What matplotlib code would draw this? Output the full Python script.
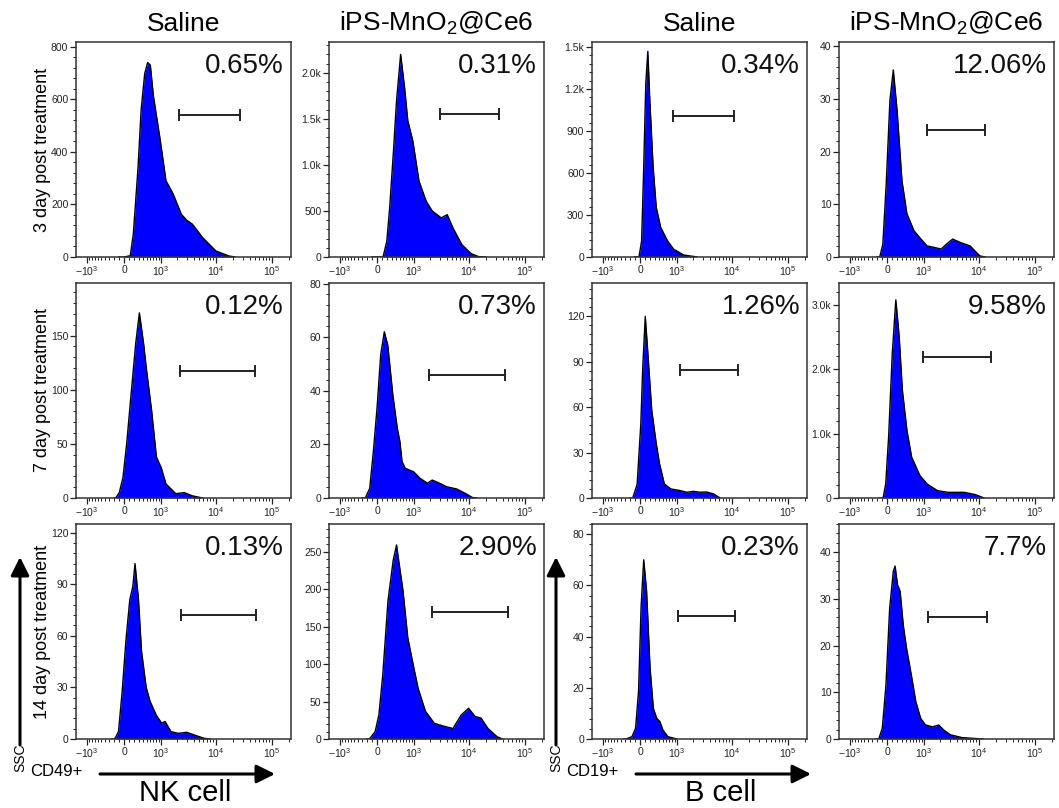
import numpy as np
import matplotlib.pyplot as plt
from matplotlib.ticker import AutoMinorLocator

plt.rcParams['font.family'] = ['Liberation Sans', 'DejaVu Sans']
plt.rcParams['mathtext.default'] = 'regular'

# histogram outlines: (fluorescence, count)
nk_sal_d3_x = [-100, 0, 120, 180, 280, 350, 440, 520, 600, 700, 970, 1250, 1700, 2400, 3000, 3800, 5800, 10000, 17000, 22000]
nk_sal_d3_y = [0, 0, 5, 87, 341, 558, 698, 740, 730, 613, 443, 290, 240, 163, 140, 125, 74, 23, 4, 0]
nk_ips_d3_x = [-100, 115, 190, 250, 330, 410, 520, 640, 750, 950, 1250, 1700, 2200, 3200, 4100, 5200, 7500, 11000, 15000, 20000]
nk_ips_d3_y = [0, 0, 171, 535, 1116, 1700, 2200, 1840, 1480, 1260, 825, 607, 500, 425, 460, 316, 135, 36, 4, 0]
b_sal_d3_x = [-100, -20, 30, 70, 110, 150, 190, 260, 330, 440, 640, 860, 1350, 2400]
b_sal_d3_y = [0, 0, 115, 642, 1240, 1469, 1121, 642, 355, 211, 115, 55, 14, 0]
b_ips_d3_x = [-200, -140, -80, -15, 55, 120, 195, 300, 420, 620, 870, 1150, 1600, 2100, 2600, 3400, 4800, 7000, 8600, 10500, 13000]
b_ips_d3_y = [0, 0, 2.4, 13.9, 29.8, 35.5, 27.9, 14.5, 8.2, 5.0, 3.4, 2.1, 1.8, 1.5, 2.4, 3.4, 2.7, 2.1, 1.1, 0.2, 0]

nk_sal_d7_x = [-200, -160, -90, -20, 50, 130, 230, 310, 410, 490, 640, 810, 1010, 1250, 1900, 2700, 3800, 5800]
nk_sal_d7_y = [0, 0, 5, 19, 50, 93, 143, 171, 143, 118, 81, 38, 28, 13, 4, 5, 2, 0]
nk_ips_d7_x = [-300, -230, -140, -70, 0, 70, 140, 210, 320, 430, 500, 560, 660, 980, 1300, 1800, 2200, 3000, 4000, 6000, 8700, 11500, 14000]
nk_ips_d7_y = [0, 0, 3.6, 17.3, 33.5, 53.5, 62, 57, 38.5, 26, 21, 13.6, 11.1, 9.8, 7.4, 5.5, 6.7, 5.5, 4.2, 3.4, 1.7, 0.2, 0]
b_sal_d7_x = [-200, -140, -55, 15, 50, 100, 150, 230, 330, 410, 540, 750, 1150, 1550, 2050, 2700, 3500, 4700, 6200]
b_sal_d7_y = [0, 0, 9, 49, 85, 120, 96, 58, 36, 22.6, 9.3, 6, 4.9, 3.8, 4.4, 3.8, 4, 2.7, 0]
b_ips_d7_x = [-150, -75, -25, 30, 100, 170, 240, 310, 420, 550, 830, 1150, 1800, 2800, 5500, 8700, 12500]
b_ips_d7_y = [0, 0, 218, 946, 2246, 3078, 2506, 1674, 1050, 634, 348, 218, 114, 88, 88, 52, 0]

nk_sal_d14_x = [-250, -180, -105, -35, 35, 110, 170, 215, 290, 360, 480, 590, 800, 1030, 1200, 1550, 2100, 3000, 4400, 6200, 8000]
nk_sal_d14_y = [0, 0, 4.3, 27.8, 57, 81, 88.6, 102, 81, 51, 30, 22, 14, 9.2, 10.2, 4.3, 3.3, 3.9, 2, 0.4, 0]
nk_ips_d14_x = [-200, -145, -35, 35, 110, 215, 330, 410, 490, 590, 750, 960, 1200, 1650, 2400, 3600, 5200, 7300, 9900, 13000, 16500, 22000, 32000, 40000]
nk_ips_d14_y = [0, 0, 10, 32, 86, 185, 239, 259, 230, 198, 135, 100, 68, 37, 21, 17, 14, 32, 41, 30, 28, 14, 3, 0]
b_sal_d14_x = [-350, -280, -155, -85, -28, 20, 70, 125, 195, 265, 340, 420, 500, 650, 870, 1000]
b_sal_d14_y = [0, 0, 0.9, 4.2, 18.6, 51.5, 70, 58, 27.8, 12, 8.1, 6.8, 3.5, 0.9, 0.3, 0]
b_ips_d14_x = [-220, -160, -90, -20, 50, 120, 155, 205, 260, 330, 410, 540, 680, 860, 1070, 1450, 1900, 2350, 3100, 5000, 12000]
b_ips_d14_y = [0, 0, 2.3, 11.6, 28, 35.9, 37, 33, 31.6, 24.4, 19.4, 13.7, 8, 4.4, 3, 2.6, 3, 1.9, 0.9, 0.3, 0]

curves_x = [nk_sal_d3_x, nk_ips_d3_x, b_sal_d3_x, b_ips_d3_x,
            nk_sal_d7_x, nk_ips_d7_x, b_sal_d7_x, b_ips_d7_x,
            nk_sal_d14_x, nk_ips_d14_x, b_sal_d14_x, b_ips_d14_x]
curves_y = [nk_sal_d3_y, nk_ips_d3_y, b_sal_d3_y, b_ips_d3_y,
            nk_sal_d7_y, nk_ips_d7_y, b_sal_d7_y, b_ips_d7_y,
            nk_sal_d14_y, nk_ips_d14_y, b_sal_d14_y, b_ips_d14_y]

percents = ['0.65%', '0.31%', '0.34%', '12.06%',
            '0.12%', '0.73%', '1.26%', '9.58%',
            '0.13%', '2.90%', '0.23%', '7.7%']
gate_lo = [2200, 3000, 820, 1120, 2300, 1900, 1130, 950, 2350, 2200, 1050, 1200]
gate_hi = [27000, 35000, 11000, 13000, 50000, 45000, 13000, 16500, 52000, 50000, 11500, 14000]
gate_y = [539, 1553, 1006, 24.1, 117, 45.7, 84.6, 2194, 72, 169, 48.2, 26.2]

ymax = [818, 2335, 1536, 40.8, 198.6, 80.2, 142, 3340, 125, 287, 84, 46]
yticks = [[0, 200, 400, 600, 800], [0, 500, 1000, 1500, 2000], [0, 300, 600, 900, 1200, 1500], [0, 10, 20, 30, 40],
          [0, 50, 100, 150], [0, 20, 40, 60, 80], [0, 30, 60, 90, 120], [0, 1000, 2000, 3000],
          [0, 30, 60, 90, 120], [0, 50, 100, 150, 200, 250], [0, 20, 40, 60, 80], [0, 10, 20, 30, 40]]
ylabels = [['0', '200', '400', '600', '800'], ['0', '500', '1.0k', '1.5k', '2.0k'],
           ['0', '300', '600', '900', '1.2k', '1.5k'], ['0', '10', '20', '30', '40'],
           ['0', '50', '100', '150'], ['0', '20', '40', '60', '80'], ['0', '30', '60', '90', '120'],
           ['0', '1.0k', '2.0k', '3.0k'],
           ['0', '30', '60', '90', '120'], ['0', '50', '100', '150', '200', '250'],
           ['0', '20', '40', '60', '80'], ['0', '10', '20', '30', '40']]

col_titles = ['Saline', 'iPS-MnO$_2$@Ce6', 'Saline', 'iPS-MnO$_2$@Ce6']
row_titles = ['3 day post treatment', '7 day post treatment', '14 day post treatment']

xticks = [-1000, 0, 1000, 10000, 100000]
xlabels = ['$-10^3$', '0', '$10^3$', '$10^4$', '$10^5$']


def fwd(x):
    return np.arcsinh(np.asarray(x, dtype=float) / 460.0) / np.log(10)


def inv(u):
    return 460.0 * np.sinh(np.asarray(u, dtype=float) * np.log(10))


xminor = ([-s for s in range(100, 1000, 100)] + list(range(100, 1000, 100)) +
          list(range(2000, 10000, 1000)) + list(range(20000, 100000, 10000)) + [200000])

W, H = 1059, 808
fig = plt.figure(figsize=(W / 100, H / 100), dpi=100)
col_left = [76, 329, 592, 839]
row_top = [42, 283, 524]
aw, ah = 215, 215

for r in range(3):
    for c in range(4):
        i = r * 4 + c
        ax = fig.add_axes([col_left[c] / W, 1 - (row_top[r] + ah) / H, aw / W, ah / H])
        ax.set_xscale('function', functions=(fwd, inv))
        ax.set_xlim(inv(-0.857), inv(2.98))
        ax.set_ylim(0, ymax[i])

        ax.fill_between(curves_x[i], curves_y[i], 0, color='#0000ff', lw=0)
        ax.plot(curves_x[i], curves_y[i], color='black', lw=1.0)

        # gate bar
        ax.plot([gate_lo[i], gate_hi[i]], [gate_y[i], gate_y[i]], color='#222222', lw=1.4)
        ax.plot([gate_lo[i], gate_hi[i]], [gate_y[i], gate_y[i]], ls='none', marker='|',
                ms=9, mew=1.4, color='#222222')

        ax.text(0.968, 0.95, percents[i], transform=ax.transAxes, ha='right', va='top',
                fontsize=20, color='#111111')

        ax.set_xticks(xticks)
        ax.set_xticklabels(xlabels)
        ax.set_xticks(xminor, minor=True)
        ax.set_yticks(yticks[i])
        ax.set_yticklabels(ylabels[i])
        ax.yaxis.set_minor_locator(AutoMinorLocator(5))
        ax.tick_params(which='major', length=4, width=0.9, labelsize=7.5, pad=1.5,
                       colors='#222222')
        ax.tick_params(which='minor', length=2, width=0.7, colors='#222222')
        for sp in ax.spines.values():
            sp.set_linewidth(1.1)
            sp.set_color('#333333')

        if r == 0:
            ax.set_title(col_titles[c], fontsize=19, pad=8)
        if c == 0:
            fig.text(43 / W, 1 - (row_top[r] + ah / 2) / H, row_titles[r], rotation=90,
                     ha='center', va='center', fontsize=13)

# axis captions with arrows at the bottom
for x0, marker, cell in [(20, 'CD49+', 'NK cell'), (556, 'CD19+', 'B cell')]:
    fig.text(x0 / W, 1 - 758 / H, 'SSC', rotation=90, ha='center', va='center', fontsize=10)
    fig.text((x0 + 36) / W, 1 - 772 / H, marker, ha='center', va='center', fontsize=12)
    fig.text((x0 + 165) / W, 1 / H, cell, ha='center', va='bottom', fontsize=21)
    ax_arrow = dict(arrowstyle='-|>', lw=2.2, color='black', mutation_scale=28, shrinkA=0, shrinkB=0)
    fig.add_artist(plt.Annotation('', xy=(x0, H - 557), xytext=(x0, H - 745),
                                  xycoords='figure pixels', textcoords='figure pixels',
                                  arrowprops=ax_arrow))
    fig.add_artist(plt.Annotation('', xy=(x0 + 255, H - 774), xytext=(x0 + 80, H - 774),
                                  xycoords='figure pixels', textcoords='figure pixels',
                                  arrowprops=ax_arrow))

fig.savefig('out.png', dpi=100)
